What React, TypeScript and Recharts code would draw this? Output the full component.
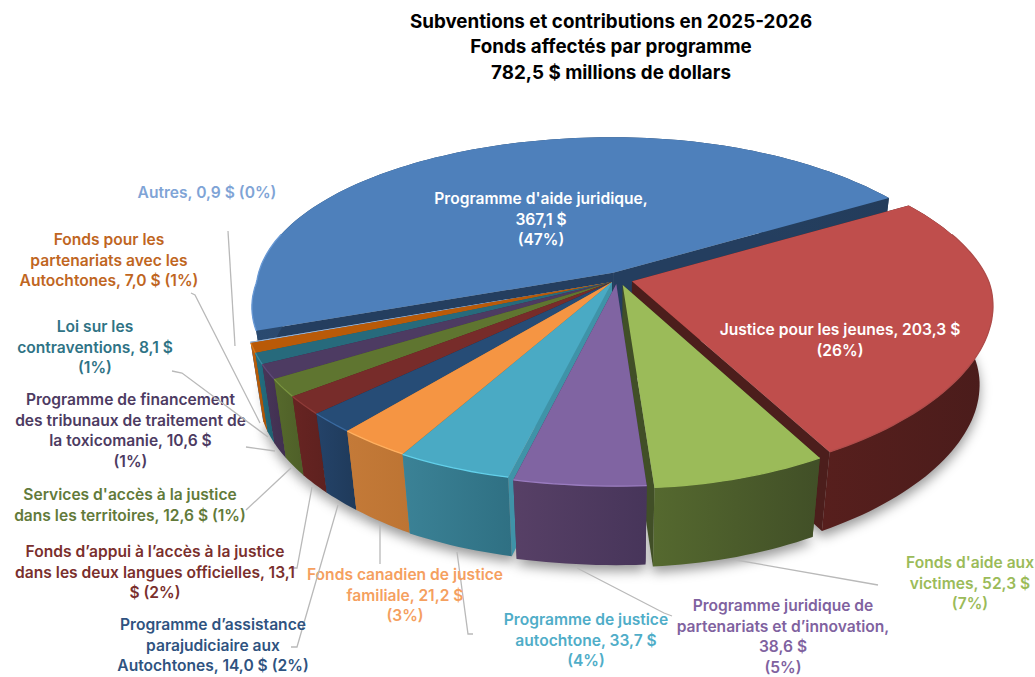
import { PieChart, Pie } from 'recharts';

const categories = [
  "Programme d'aide juridique",
  'Justice pour les jeunes',
  "Fonds d'aide aux victimes",
  'Programme juridique de partenariats et d’innovation',
  'Programme de justice autochtone',
  'Fonds canadien de justice familiale',
  'Programme d’assistance parajudiciaire aux Autochtones',
  'Fonds d’appui à l’accès à la justice dans les deux langues officielles',
  "Services d'accès à la justice dans les territoires",
  'Programme de financement des tribunaux de traitement de la toxicomanie',
  'Loi sur les contraventions',
  'Fonds pour les partenariats avec les Autochtones',
  'Autres',
];
const values = [367.1, 203.3, 52.3, 38.6, 33.7, 21.2, 14.0, 13.1, 12.6, 10.6, 8.1, 7.0, 0.9];

const labelLines = [
  ["Programme d'aide juridique,", '367,1 $', '(47%)'],
  ['Justice pour les jeunes, 203,3 $', '(26%)'],
  ["Fonds d'aide aux", 'victimes, 52,3 $', '(7%)'],
  ['Programme juridique de', 'partenariats et d’innovation,', '38,6 $', '(5%)'],
  ['Programme de justice', 'autochtone, 33,7 $', '(4%)'],
  ['Fonds canadien de justice', 'familiale, 21,2 $', '(3%)'],
  ['Programme d’assistance', 'parajudiciaire aux', 'Autochtones, 14,0 $ (2%)'],
  ['Fonds d’appui à l’accès à la justice', 'dans les deux langues officielles, 13,1', '$ (2%)'],
  ["Services d'accès à la justice", 'dans les territoires, 12,6 $ (1%)'],
  ['Programme de financement', 'des tribunaux de traitement de', 'la toxicomanie, 10,6 $', '(1%)'],
  ['Loi sur les', 'contraventions, 8,1 $', '(1%)'],
  ['Fonds pour les', 'partenariats avec les', 'Autochtones, 7,0 $ (1%)'],
  ['Autres, 0,9 $ (0%)'],
];

const titleLines = [
  'Subventions et contributions en 2025-2026',
  'Fonds affectés par programme',
  '782,5 $ millions de dollars',
];

// styles, same order as categories
const topColors = ['#4e80bb', '#bf4e4c', '#9bbb59', '#8064a2', '#4aaac4', '#f59543', '#264c76', '#772c2a', '#5f7530', '#4d3b62', '#276a7c', '#b95a08', '#95b3d7'];
const wallLight = ['#2a4a70', '#571f1d', '#55692f', '#574066', '#3b8296', '#c47a38', '#244369', '#672422', '#56692c', '#483658', '#237083', '#bb5f0c', '#6f8fb5'];
const wallDark = ['#233c5b', '#4a1c1b', '#414f27', '#47355a', '#2f7083', '#bd7433', '#1f3a5a', '#5e211f', '#4e5f28', '#402f50', '#1f6070', '#a85307', '#6f8fb5'];
const cutColors = ['#243e5f', '#4c1e1c', '#414f27', '#47355a', '#3f93a8', '#c97a30', '#1c3654', '#5e211f', '#4e5f28', '#402f50', '#1f6070', '#a85307', '#6f8fb5'];
const rimColors = ['#6a9ad6', '#b04c4a', '#9bbb59', '#9a7cc0', '#62d0ea', '#ffb060', '#3a6aa0', '#8f3b38', '#7a9440', '#5f4a78', '#3a8ba0', '#d87818', '#95b3d7'];
const labelColors = ['#ffffff', '#ffffff', '#9bbb59', '#80629f', '#4fadc8', '#f5a05f', '#2f5380', '#7a2f2d', '#627a3a', '#4d3b62', '#2f7385', '#c0661f', '#7fa4d6'];

// how far each slice is pulled out, in disc units
const explodeU = [0.003, 0.056, 0.03, 0.012, 0, 0, 0, 0, 0, 0, 0, 0, 0];
const explodeV = [-0.06, -0.005, 0.02, 0.013, 0.002, 0, 0, 0, 0, 0, 0, 0, 0];

// paint order, back slices first
const drawOrder = [0, 12, 11, 10, 9, 8, 7, 6, 5, 4, 1, 2, 3];

const labelX = [541, 840, 970, 783, 586, 405, 213, 155, 130, 130.5, 95, 109, 207];
const labelY = [199, 330, 563, 606, 620, 575, 625, 552, 495, 400, 327, 240, 193];
const lineGap = 20.7;

const leaders = [
  null,
  null,
  [[878, 585], [736, 560]],
  [[672, 616], [664, 613], [577, 568]],
  [[473, 634], [468, 634], [457, 552]],
  [[380, 564], [380, 524]],
  [[291, 647], [297, 647], [338, 505]],
  [[291, 568], [297, 568], [312, 487]],
  [[246, 510], [291, 468]],
  [[246, 447], [275, 451]],
  [[172, 371], [182, 373], [268, 437]],
  [[191, 293], [195, 295], [260, 423]],
  [[228, 231], [235, 346]],
];

const pieData = categories.map((name, i) => ({ name, value: values[i] }));

const FONT = 'Inter, "Noto Sans", sans-serif';
const DEPTH = 79;
const TILT = 154 / 357;

// the picture is a perspective view, so the disc is not a plain ellipse
const project = (u: number, v: number, p: any) => {
  const s = v >= 0 ? 1 / (1 - 0.233 * v) : 1 / (1 - 0.12 * v);
  let fx = 1;
  if (u > 0 && v > 0) fx = 1 - 0.09 * v;
  if (u > 0 && v < 0) fx = 1 + 0.05 * v;
  if (u < 0 && v > 0) fx = 1 - 0.058 * v * v;
  const fy = v > 0 ? 1 + 0.02 * Math.max(0, Math.min(1, (-u - 0.1) / 0.4)) : 1;
  return [p.cx + p.outerRadius * u * s * fx, p.cy + p.outerRadius * TILT * v * s * fy];
};

const lower = (pt: number[], p: any) => [p.cx + (pt[0] - p.cx) * 0.965, pt[1] + DEPTH];

const toPath = (pts: number[][]) => 'M' + pts.map((q) => q[0].toFixed(1) + ' ' + q[1].toFixed(1)).join('L') + 'Z';
const toLine = (pts: number[][]) => 'M' + pts.map((q) => q[0].toFixed(1) + ' ' + q[1].toFixed(1)).join('L');

const sliceGeometry = (p: any, i: number) => {
  const n = Math.ceil(Math.abs(p.endAngle - p.startAngle) / 1.5) + 1;
  const rim: number[][] = [];
  for (let k = 0; k <= n; k++) {
    const a = ((p.startAngle + ((p.endAngle - p.startAngle) * k) / n) * Math.PI) / 180;
    rim.push(project(Math.cos(a) + explodeU[i], -Math.sin(a) + explodeV[i], p));
  }
  const apex = project(explodeU[i], explodeV[i], p);
  return { rim, apex };
};

const Slice = (p: any, i: number) => {
  const { rim, apex } = sliceGeometry(p, i);
  const bottom = rim.map((q) => lower(q, p));
  const first = rim[0];
  const last = rim[rim.length - 1];
  const gid = 'wall-' + i;
  // only the front of the rim catches the light
  const lit = rim.filter((q) => q[1] > p.cy - 50);
  return (
    <g>
      <defs>
        <linearGradient id={gid} x1="0" y1="0" x2="1" y2="0">
          <stop offset="0%" stopColor={wallLight[i]} />
          <stop offset="100%" stopColor={wallDark[i]} />
        </linearGradient>
      </defs>
      <path d={toPath([apex, first, lower(first, p), lower(apex, p)])} fill={cutColors[i]} />
      <path d={toPath([apex, last, lower(last, p), lower(apex, p)])} fill={cutColors[i]} />
      <path d={toPath([...rim, ...bottom.reverse()])} fill={`url(#${gid})`} />
      <path d={toPath([apex, ...rim])} fill={topColors[i]} />
      {lit.length > 1 && <path d={toLine(lit)} fill="none" stroke={rimColors[i]} strokeWidth={1.3} />}
    </g>
  );
};

const Shadow = (p: any, i: number) => {
  const { rim, apex } = sliceGeometry(p, i);
  const pts = [apex, ...rim].map((q) => {
    const b = lower(q, p);
    return [b[0], b[1] + 6];
  });
  return <path d={toPath(pts)} fill="#000" fillOpacity={0.4} filter="url(#pieShadow)" />;
};

const renderLabel = (p: any) => {
  const i = categories.indexOf(p.name);
  const lead = leaders[i];
  return (
    <g key={p.name}>
      {lead && <path d={toLine(lead)} fill="none" stroke="#b9b9b9" strokeWidth={1.3} />}
      {labelLines[i].map((line, k) => (
        <text
          key={k}
          x={labelX[i]}
          y={labelY[i] + k * lineGap + 5}
          textAnchor="middle"
          fontFamily={FONT}
          fontWeight={600}
          fontSize={15.6}
          fill={labelColors[i]}
        >
          {line}
        </text>
      ))}
    </g>
  );
};

const App = () => {
  return (
    <div style={{ position: 'absolute', left: 0, top: 0, width: 1035, height: 677, background: '#fff', overflow: 'hidden' }}>
      <PieChart width={1035} height={677} margin={{ top: 0, right: 0, bottom: 0, left: 0 }}>
        <defs>
          <filter id="pieShadow" filterUnits="userSpaceOnUse" x="0" y="0" width="1035" height="677">
            <feGaussianBlur stdDeviation="6" />
          </filter>
        </defs>
        <Pie
          data={pieData}
          dataKey="value"
          nameKey="name"
          cx={612}
          cy={282}
          innerRadius={0}
          outerRadius={357}
          startAngle={200.48}
          endAngle={-159.52}
          stroke="none"
          isAnimationActive={false}
          shape={(p: any) => Shadow(p, categories.indexOf(p.name))}
        />
        {drawOrder.map((idx) => (
          <Pie
            key={idx}
            data={pieData}
            dataKey="value"
            nameKey="name"
            cx={612}
            cy={282}
            innerRadius={0}
            outerRadius={357}
            startAngle={200.48}
            endAngle={-159.52}
            stroke="none"
            isAnimationActive={false}
            shape={(p: any) => (categories.indexOf(p.name) === idx ? Slice(p, idx) : <g />)}
          />
        ))}
        <Pie
          data={pieData}
          dataKey="value"
          nameKey="name"
          cx={612}
          cy={282}
          innerRadius={0}
          outerRadius={357}
          startAngle={200.48}
          endAngle={-159.52}
          stroke="none"
          isAnimationActive={false}
          shape={() => <g />}
          label={renderLabel}
          labelLine={false}
        />
      </PieChart>
      <div
        style={{
          position: 'absolute',
          left: 311,
          top: 8.5,
          width: 600,
          textAlign: 'center',
          fontFamily: FONT,
          fontWeight: 700,
          fontSize: 18.8,
          lineHeight: '25.5px',
          color: '#000',
        }}
      >
        {titleLines.map((t) => (
          <div key={t}>{t}</div>
        ))}
      </div>
    </div>
  );
};

export default App;
